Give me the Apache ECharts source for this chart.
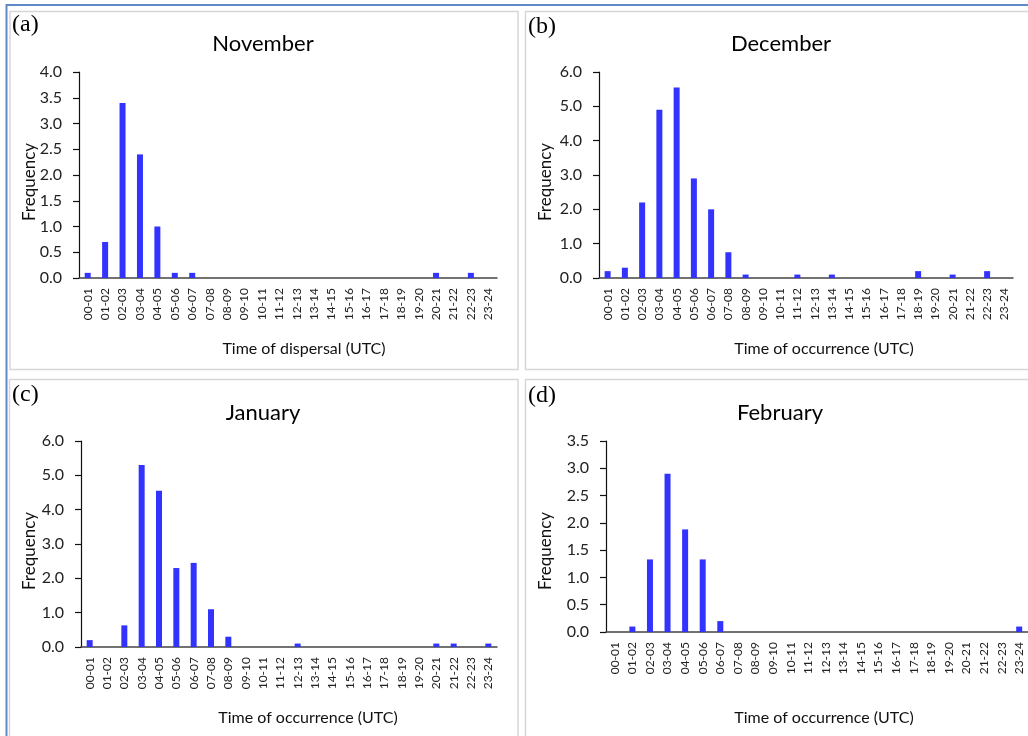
<!DOCTYPE html>
<html>
<head>
<meta charset="utf-8">
<script src="https://cdn.jsdelivr.net/npm/echarts@6/dist/echarts.min.js"></script>
<style>
  html, body { margin: 0; padding: 0; background: #ffffff; }
  #chart { width: 1028px; height: 736px; }
</style>
</head>
<body>
<div id="chart"></div>
<script>
// ---- data ----
const categories = ['00-01','01-02','02-03','03-04','04-05','05-06','06-07','07-08','08-09','09-10','10-11','11-12',
                    '12-13','13-14','14-15','15-16','16-17','17-18','18-19','19-20','20-21','21-22','22-23','23-24'];
const november = [0.1, 0.7, 3.4, 2.4, 1.0, 0.1, 0.1, 0, 0, 0, 0, 0, 0, 0, 0, 0, 0, 0, 0, 0, 0.1, 0, 0.1, 0];
const december = [0.2, 0.3, 2.2, 4.9, 5.55, 2.9, 2.0, 0.75, 0.1, 0, 0, 0.1, 0, 0.1, 0, 0, 0, 0, 0.2, 0, 0.1, 0, 0.2, 0];
const january  = [0.2, 0, 0.63, 5.3, 4.55, 2.3, 2.45, 1.1, 0.3, 0, 0, 0, 0.1, 0, 0, 0, 0, 0, 0, 0, 0.1, 0.1, 0, 0.1];
const february = [0, 0.1, 1.33, 2.9, 1.88, 1.33, 0.2, 0, 0, 0, 0, 0, 0, 0, 0, 0, 0, 0, 0, 0, 0, 0, 0, 0.1];

const panelTitles = ['November', 'December', 'January', 'February'];
const panelLetters = ['(a)', '(b)', '(c)', '(d)'];
const xAxisNames = ['Time of dispersal (UTC)', 'Time of occurrence (UTC)', 'Time of occurrence (UTC)', 'Time of occurrence (UTC)'];
const yMax = [4.0, 6.0, 6.0, 3.5];
const yInterval = [0.5, 1.0, 1.0, 0.5];
const seriesData = [november, december, january, february];

// ---- layout (styles / positions) ----
const grids = [
  { left: 79,  top: 72,  width: 418, height: 206 },
  { left: 599, top: 72,  width: 414, height: 206 },
  { left: 81,  top: 441, width: 416, height: 206 },
  { left: 606, top: 441, width: 424, height: 191 }
];
const titlePos = [[263, 44], [781, 44], [263, 413], [780, 413]];
const letterPos = [[12, 25], [528, 27], [12, 395], [528, 396]];
const xNamePos = [[304, 349], [824, 349], [308, 718], [824, 718]];
const yNamePos = [[30, 182], [546, 182], [30, 551], [546, 551]];
const panels = [
  { x: 10,  y: 11.5,  w: 508, h: 358 },
  { x: 525.5, y: 11.5, w: 510, h: 358 },
  { x: 9.5, y: 379.5, w: 508.5, h: 400 },
  { x: 525.5, y: 379.5, w: 510, h: 400 }
];

const SANS = 'Lato, "Open Sans", sans-serif';
const BAR = '#3333ff';

const chart = echarts.init(document.getElementById('chart'), null, { renderer: 'canvas' });

const graphic = [];
panels.forEach(p => graphic.push({
  type: 'rect', silent: true, z: -1,
  shape: { x: p.x, y: p.y, width: p.w, height: p.h },
  style: { fill: '#ffffff', stroke: '#d6d6d6', lineWidth: 1.5 }
}));
graphic.push({ type: 'line', silent: true, shape: { x1: 6, y1: 5, x2: 1028, y2: 5 }, style: { stroke: '#5f89c6', lineWidth: 2 } });
graphic.push({ type: 'line', silent: true, shape: { x1: 6.5, y1: 4, x2: 6.5, y2: 736 }, style: { stroke: '#5f89c6', lineWidth: 2 } });
for (let i = 0; i < 4; i++) {
  graphic.push({
    type: 'text', silent: true, x: letterPos[i][0], y: letterPos[i][1],
    style: { text: panelLetters[i], font: '24px "Liberation Serif", "Times New Roman", serif', fill: '#000', verticalAlign: 'middle', align: 'left' }
  });
  graphic.push({
    type: 'text', silent: true, x: titlePos[i][0], y: titlePos[i][1],
    style: { text: panelTitles[i], font: '22px ' + SANS, fill: '#000', verticalAlign: 'middle', align: 'center' }
  });
  graphic.push({
    type: 'text', silent: true, x: xNamePos[i][0], y: xNamePos[i][1],
    style: { text: xAxisNames[i], font: '16px ' + SANS, fill: '#111', verticalAlign: 'middle', align: 'center' }
  });
  graphic.push({
    type: 'text', silent: true, x: yNamePos[i][0], y: yNamePos[i][1], rotation: Math.PI / 2,
    style: { text: 'Frequency', font: '17px ' + SANS, fill: '#111', verticalAlign: 'middle', align: 'center' }
  });
}

const option = {
  backgroundColor: '#ffffff',
  animation: false,
  grid: grids.map(g => Object.assign({ containLabel: false }, g)),
  xAxis: grids.map((g, i) => ({
    type: 'category', gridIndex: i, data: categories,
    axisLine: { lineStyle: { color: '#444', width: 1.5 } },
    axisTick: { show: false },
    axisLabel: { rotate: 90, interval: 0, margin: 10, fontFamily: SANS, fontSize: 12, color: '#222' },
    splitLine: { show: false }
  })),
  yAxis: grids.map((g, i) => ({
    type: 'value', gridIndex: i, min: 0, max: yMax[i], interval: yInterval[i],
    axisLine: { show: true, lineStyle: { color: '#111', width: 1.2 } },
    axisTick: { show: true, length: 6, lineStyle: { color: '#111', width: 1.2 } },
    axisLabel: { margin: 17, fontFamily: SANS, fontSize: 16, color: '#222', formatter: v => v.toFixed(1) },
    splitLine: { show: false }
  })),
  series: seriesData.map((d, i) => ({
    type: 'bar', xAxisIndex: i, yAxisIndex: i, data: d, barWidth: 6,
    itemStyle: { color: BAR }
  })),
  graphic: graphic
};
chart.setOption(option);
</script>
</body>
</html>
